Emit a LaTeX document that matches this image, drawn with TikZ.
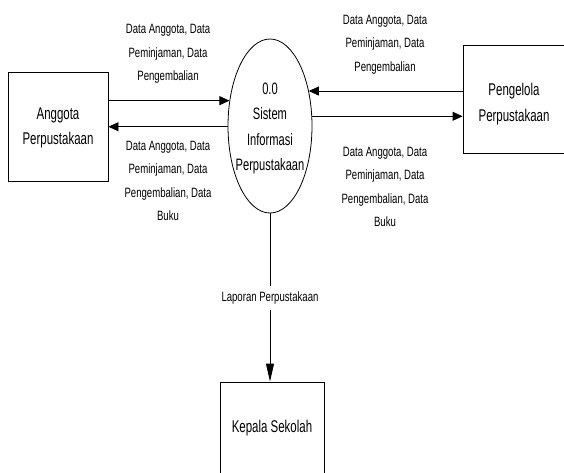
\documentclass[tikz,border=0pt]{standalone}
\usepackage{fontspec}
\setmainfont{Liberation Sans}
% condensed faces for entity names and for flow labels
\newfontfamily\entityfont{Liberation Sans}[FakeStretch=0.675]
\newfontfamily\flowfont{Liberation Sans}[FakeStretch=0.71]
\usetikzlibrary{arrows.meta,shapes.geometric}

\tikzset{
  entity/.style={draw, line width=0.9pt, rectangle, inner sep=0pt},
  process/.style={draw, line width=0.8pt, ellipse, inner sep=0pt,
                  minimum width=84pt, minimum height=174pt},
  nodetext/.style={align=center, inner sep=0pt,
                   font=\entityfont\fontsize{17}{25.5}\selectfont},
  flowtext/.style={align=center, inner sep=0pt,
                   font=\flowfont\fontsize{13.5}{23.5}\selectfont},
  flow/.style={line width=0.9pt, -{Triangle[length=10pt,width=9pt]}},
  downflow/.style={line width=0.9pt, -{Triangle[length=18pt,width=8pt]}},
}

\begin{document}
\begin{tikzpicture}[x=1pt, y=-1pt]
  \useasboundingbox (0,0) rectangle (564,472);
  \clip (0,0) rectangle (564,472);

  % external entities and the process
  \node[entity, minimum width=100pt, minimum height=109pt] (ang) at (58,126.5) {};
  \node[nodetext] (angtxt) at (58,128) {Anggota\\Perpustakaan};

  \node[entity, minimum width=104pt, minimum height=108pt] (pen) at (515,99) {};
  \node[nodetext] (pentxt) at (514,104) {Pengelola\\Perpustakaan};

  \node[entity, minimum width=104pt, minimum height=96pt] (kep) at (272,430) {};
  \node[nodetext] (keptxt) at (272,428) {Kepala Sekolah};

  \node[process] (sis) at (270,126) {};
  \node[nodetext, font=\entityfont\fontsize{16.5}{25.5}\selectfont] (sistxt)
    at (270,128.5) {0.0\\Sistem\\Informasi\\Perpustakaan};

  % data flows between the entities and the process
  \coordinate (sisL1) at (sis.148);
  \coordinate (sisL2) at (sis.181);
  \coordinate (sisR1) at (sis.42);
  \coordinate (sisR2) at (sis.13.5);

  \draw[flow] (ang.east |- sisL1) -- (sisL1);
  \draw[flow] (sisL2) -- (ang.east |- sisL2);
  \draw[flow] (pen.west |- sisR1) -- (sisR1);
  \draw[flow] (sisR2) -- (pen.west |- sisR2);
  \draw[downflow] (sis.south) -- (sis.south |- kep.north);

  % flow labels
  \node[flowtext] (lab1) at (168,54)
    {Data Anggota, Data\\Peminjaman, Data\\Pengembalian};
  \node[flowtext] (lab2) at (168,181)
    {Data Anggota, Data\\Peminjaman, Data\\Pengembalian, Data\\Buku};
  \node[flowtext] (lab3) at (385,44.5)
    {Data Anggota, Data\\Peminjaman, Data\\Pengembalian};
  \node[flowtext] (lab4) at (385,187)
    {Data Anggota, Data\\Peminjaman, Data\\Pengembalian, Data\\Buku};
  \node[flowtext, fill=white, inner xsep=1pt, inner ysep=6pt] (lab5)
    at (270,298) {Laporan Perpustakaan};
\end{tikzpicture}
\end{document}
